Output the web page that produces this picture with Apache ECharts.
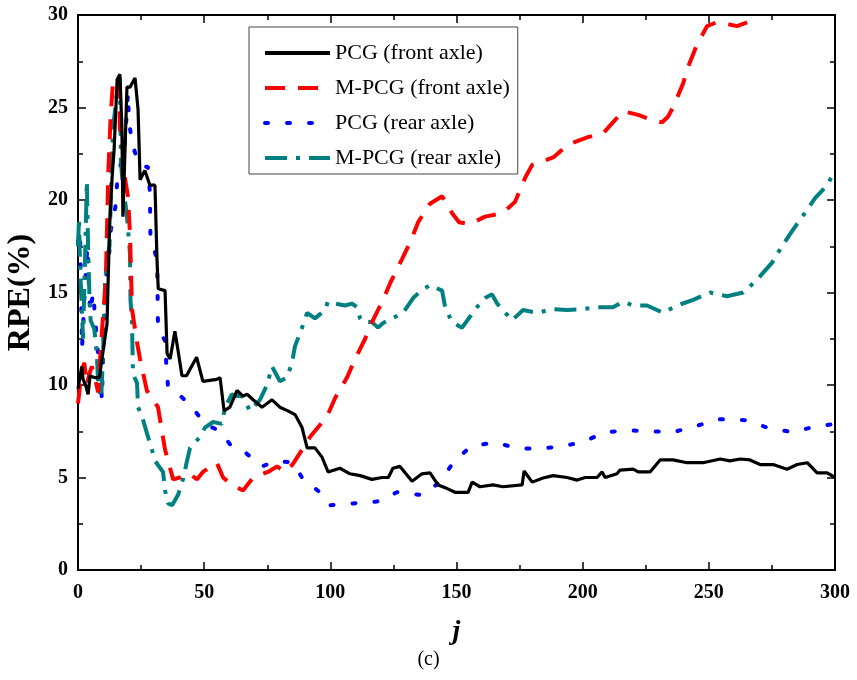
<!DOCTYPE html>
<html>
<head>
<meta charset="utf-8">
<script src="https://cdn.jsdelivr.net/npm/echarts@6/dist/echarts.min.js"></script>
<style>html,body{margin:0;padding:0;background:#fff}#c{width:857px;height:680px}</style>
</head>
<body>
<div id="c"></div>
<script>
const seriesNames = ['PCG (front axle)', 'M-PCG (front axle)', 'PCG (rear axle)', 'M-PCG (rear axle)'];
const xTicks = [0, 50, 100, 150, 200, 250, 300];
const yTicks = [0, 5, 10, 15, 20, 25, 30];

const pcgFront = [[0,9.8],[1.5,11],[2,10.3],[3,10],[4,9.5],[4.8,10.5],[6.5,10.4],[8.5,10.4],[10,11.9],[11.5,13.3],[12.5,18.5],[13.5,21.2],[14.3,22.7],[15.5,26.5],[16.6,26.8],[17.4,23.9],[17.8,19.1],[19.4,26.1],[20.6,26.1],[22.6,26.6],[23.8,24.9],[24.6,21.1],[26.5,21.6],[28.5,20.8],[30.5,20.8],[31.3,16.8],[31.8,15.2],[34.5,15.1],[35.3,11.7],[36.5,11.4],[38.4,12.9],[39.6,11.9],[41.2,10.5],[43,10.5],[47,11.5],[49.5,10.2],[55,10.3],[56.3,10.4],[57.9,8.6],[60.2,8.8],[63,9.7],[65.4,9.4],[67,9.5],[69.4,9.2],[72.9,8.8],[76.9,9.2],[80,8.8],[83.2,8.6],[86,8.4],[88.8,7.7],[90.8,6.6],[93.9,6.6],[96.7,6.1],[99.1,5.3],[103.8,5.5],[107.8,5.2],[111.8,5.1],[116.5,4.9],[120.5,5.0],[123,5.0],[124.8,5.5],[127.6,5.6],[132.4,4.8],[136.3,5.2],[139.5,5.25],[142.7,4.6],[146.3,4.4],[149.4,4.2],[154.6,4.2],[156.2,4.75],[159.3,4.5],[164.5,4.6],[168.4,4.5],[176,4.6],[176.8,5.35],[180,4.75],[184.3,4.97],[188.3,5.1],[193.8,5.0],[197.8,4.86],[201,5.0],[205.7,5.0],[207.7,5.3],[208.9,5.0],[213.6,5.2],[214.8,5.4],[220,5.45],[222,5.3],[226.7,5.3],[230.7,5.95],[235.8,5.95],[241.4,5.8],[247.7,5.8],[254.5,6.0],[258.4,5.9],[262.4,6.0],[266.3,5.95],[270.3,5.7],[275.5,5.7],[281,5.45],[285,5.7],[289,5.8],[292.9,5.25],[296.9,5.25],[300,5.0]];

const mpcgFront = [[0,9.0],[1.5,10.8],[2.5,11.2],[3.5,10],[4.5,10.6],[5.5,11],[7,10.2],[8,9.6],[9,12],[9.8,13.5],[11,15.5],[12,21.5],[13,24.7],[14,26.6],[16.2,26.5],[16.6,23.9],[17.8,22.7],[18.6,21.2],[19.8,20.2],[20.6,18.2],[21.4,14.1],[23.4,12.3],[24.6,11.4],[27.3,9.7],[31.7,8.8],[34.5,6.5],[37.7,4.9],[40.4,5.0],[44,5.2],[47.2,4.9],[49.5,5.3],[55,5.8],[57.5,5.0],[61,4.6],[65.4,4.3],[69.4,5.0],[75.3,5.3],[78.9,5.6],[82,5.3],[85,5.7],[88.8,6.5],[92,7.2],[98.7,8.3],[101.9,9.3],[106.6,10.4],[109.8,11.4],[113.8,12.5],[116.5,13.4],[120.9,14.6],[123.7,15.5],[128.4,16.8],[131.6,17.7],[134.8,18.8],[139.5,19.8],[144.3,20.2],[148.2,19.3],[151,18.8],[155.4,18.7],[161.3,19.1],[168.4,19.3],[173.2,19.9],[177.2,21.2],[180,21.9],[188.3,22.3],[194.2,23.0],[202.1,23.4],[208.1,23.6],[212,24.2],[216,24.8],[222,24.6],[228,24.3],[231.5,24.2],[233.8,24.5],[235.8,25.0],[239.8,26.3],[241.8,27.2],[245.3,28.4],[249.3,29.4],[253,29.6],[257.6,29.5],[261.2,29.4],[265.2,29.6]];

const pcgRear = [[0,17.7],[0.8,18.3],[1.2,15.1],[1.6,12],[2.7,15.2],[3.7,17.5],[4.8,13.9],[6,15],[7.5,12.4],[8.7,10.6],[9.5,9.2],[10,11.9],[10.5,14.3],[11,15.7],[12.3,17],[13,18.4],[14.8,19.6],[15.5,20.9],[17,22],[18.6,23.1],[19.8,25.8],[20.2,24.3],[21.4,23.1],[23.4,22.2],[25.4,21.8],[27.7,21.8],[28.5,20.4],[28.7,18],[31.3,16.8],[31.5,15.5],[31.6,14.2],[31.7,13],[34.5,12.4],[35,11.1],[35.7,9.9],[39.2,9.6],[45.2,8.8],[50.3,7.9],[56.3,7.5],[60.2,6.8],[65,6.5],[72.9,5.6],[78.9,5.9],[85.2,5.8],[89.2,4.9],[95.9,4.2],[99.9,3.5],[109,3.6],[118.5,3.7],[126.4,4.2],[136.3,4.05],[143.5,4.75],[148.6,5.8],[155.4,6.65],[164.5,6.9],[174,6.6],[181,6.55],[190.2,6.65],[199.8,6.9],[208.9,7.45],[218,7.55],[226.7,7.5],[235.8,7.45],[245.3,7.8],[254.5,8.15],[264.4,8.1],[273.1,7.7],[283,7.45],[292.1,7.75],[300,7.9]];

const mpcgRear = [[0,17.5],[0.4,19],[0.9,16],[1.4,14.5],[2,12.5],[3,18],[3.5,21],[4,17.5],[4.5,15],[5,13.5],[6.5,13],[7.5,11.6],[8,10],[9.2,9.3],[10,11.9],[10.7,15.5],[11.5,16.8],[12.5,17.5],[13.2,21],[13.9,23.9],[15.5,25.9],[16.6,26.6],[17,22.2],[17.4,21.4],[19.4,19.1],[20.6,17.1],[20.8,14.6],[21.4,13.4],[21.6,11.9],[21.8,10.6],[23.4,10.1],[23.8,8.8],[25.4,8.3],[27.3,7.4],[29.3,6.5],[30.5,5.9],[33.7,5.3],[34.5,4.3],[35.7,3.6],[37.3,3.5],[39.6,4.05],[41.6,4.9],[43.2,5.9],[44.4,6.6],[48.4,7.2],[50.3,7.7],[53.5,8.0],[57,7.9],[58.3,8.8],[61,9.5],[62.5,9.4],[65,9.4],[68.2,8.6],[72.1,9.2],[74.9,10.0],[76.9,11.0],[80,10.2],[82.8,10.4],[84.8,11.2],[86,12.1],[88.8,13.1],[90.8,13.9],[93.9,13.6],[97.9,14.05],[99,14.5],[101.9,14.4],[105.8,14.3],[108.6,14.4],[110.6,14.2],[111.8,13.6],[113,13.4],[116.5,13.4],[118.9,13.1],[120.9,13.35],[124.5,13.6],[128.8,13.9],[132.8,14.7],[136,15.1],[139.5,15.4],[144.3,15.1],[145.5,14.2],[148.2,13.4],[152.2,13.1],[155.4,13.7],[158.1,14.2],[161.3,14.7],[164.1,14.9],[166.1,14.4],[168.4,14.05],[172,13.5],[176.4,14.05],[181.9,13.9],[187.9,14.1],[193.8,14.05],[200.2,14.1],[205.7,14.2],[212,14.2],[216,14.5],[220,14.3],[225.5,14.3],[231.9,13.9],[237.4,14.3],[243.8,14.6],[250.5,15.0],[257.2,14.8],[263.6,15.0],[269.1,15.7],[275,16.6],[279,17.5],[283.4,18.4],[288.1,19.3],[292.1,20.1],[296.9,20.8],[300,21.6]];

const FONT = '"Liberation Serif", "Times New Roman", serif';
const chart = echarts.init(document.getElementById('c'), null, {renderer: 'canvas'});

function frameAxis(extra) {
  return Object.assign({
    axisLine: {show: true, onZero: false, lineStyle: {color: '#000', width: 2}},
    splitLine: {show: false},
    minorSplitLine: {show: false},
    axisTick: {show: true, inside: true, length: 8, lineStyle: {color: '#000', width: 1.5}},
    minorTick: {show: true, splitNumber: 2, length: 5, lineStyle: {color: '#000', width: 1.5}}
  }, extra);
}

chart.setOption({
  backgroundColor: '#fff',
  animation: false,
  grid: {left: 78, right: 22, top: 15, bottom: 110, containLabel: false, outerBoundsMode: 'none'},
  legend: {
    orient: 'vertical',
    left: 249, top: 27,
    padding: [15, 8, 5, 14],
    itemGap: 13,
    itemWidth: 65, itemHeight: 21,
    borderColor: '#444', borderWidth: 1,
    backgroundColor: '#fff',
    itemStyle: {opacity: 0},
    lineStyle: {width: 4},
    textStyle: {fontFamily: FONT, fontSize: 22, lineHeight: 21, color: '#000'},
    data: seriesNames
  },
  xAxis: [
    frameAxis({
      type: 'value', min: xTicks[0], max: xTicks[xTicks.length - 1], interval: 50,
      name: 'j', nameLocation: 'middle', nameGap: 48,
      nameTextStyle: {fontFamily: FONT, fontSize: 28, fontWeight: 'bold', fontStyle: 'italic', color: '#000'},
      axisLabel: {fontFamily: FONT, fontSize: 20, fontWeight: 'bold', color: '#000', margin: 13}
    }),
    frameAxis({
      type: 'value', position: 'top', min: 0, max: 300, interval: 50,
      axisLabel: {show: false}
    })
  ],
  yAxis: [
    frameAxis({
      type: 'value', min: yTicks[0], max: yTicks[yTicks.length - 1], interval: 5,
      name: 'RPE(%)', nameLocation: 'middle', nameGap: 31, nameRotate: 90,
      nameTextStyle: {fontFamily: FONT, fontSize: 32, fontWeight: 'bold', color: '#000'},
      axisLabel: {fontFamily: FONT, fontSize: 20, fontWeight: 'bold', color: '#000', margin: 10}
    }),
    frameAxis({
      type: 'value', position: 'right', min: 0, max: 30, interval: 5,
      axisLabel: {show: false}
    })
  ],
  graphic: [{
    type: 'text', left: 'center', top: 650,
    style: {text: '(c)', fontFamily: FONT, fontSize: 20, fill: '#000'}
  }],
  series: [
    {
      name: seriesNames[0], type: 'line', data: pcgFront, symbol: 'none', z: 5,
      lineStyle: {color: '#000', width: 3.2, type: 'solid'}, itemStyle: {color: '#000'}
    },
    {
      name: seriesNames[1], type: 'line', data: mpcgFront, symbol: 'none', z: 4,
      lineStyle: {color: '#ff0000', width: 4, type: [20, 13], cap: 'butt'}, itemStyle: {color: '#ff0000'}
    },
    {
      name: seriesNames[2], type: 'line', data: pcgRear, symbol: 'none', z: 3,
      lineStyle: {color: '#0000ff', width: 4, type: [3, 19], cap: 'round'}, itemStyle: {color: '#0000ff'}
    },
    {
      name: seriesNames[3], type: 'line', data: mpcgRear, symbol: 'none', z: 3,
      lineStyle: {color: '#008080', width: 4, type: [22, 9, 4, 9], cap: 'butt'}, itemStyle: {color: '#008080'}
    }
  ]
});
</script>
</body>
</html>
